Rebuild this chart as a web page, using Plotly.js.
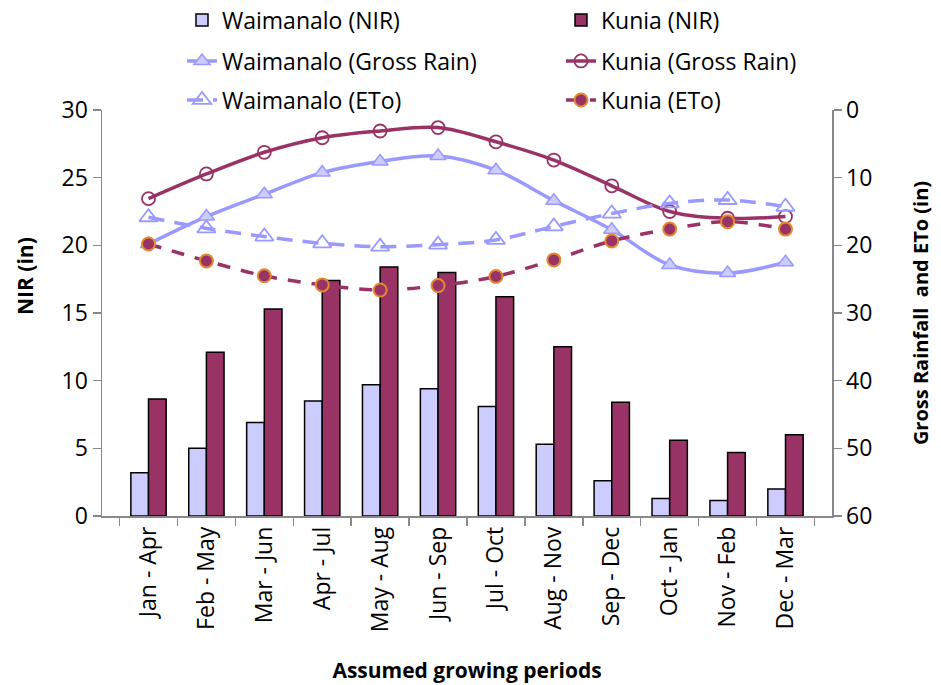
<!DOCTYPE html>
<html><head><meta charset="utf-8">
<script src="https://cdn.plot.ly/plotly-3.0.1.min.js"></script>
<style>body{margin:0;background:#fff}#c{width:941px;height:685px}</style>
</head><body><div id="c"></div>
<script>
const periods = ["Jan - Apr","Feb - May","Mar - Jun","Apr - Jul","May - Aug","Jun - Sep","Jul - Oct","Aug - Nov","Sep - Dec","Oct - Jan","Nov - Feb","Dec - Mar"];
const waimanaloNIR = [3.2,5.0,6.9,8.5,9.7,9.4,8.1,5.3,2.6,1.3,1.15,2.0];
const kuniaNIR = [8.65,12.1,15.3,17.4,18.4,18.0,16.2,12.5,8.4,5.6,4.7,6.0];
const waimanaloRain = [19.8,15.75,12.45,9.25,7.6,6.8,8.9,13.4,17.7,22.9,24.1,22.5];
const kuniaRain = [13.1,9.45,6.25,4.1,3.1,2.6,4.7,7.4,11.2,15.0,16.0,15.75];
const waimanaloETo = [15.85,17.5,18.7,19.7,20.2,19.9,19.2,17.2,15.3,13.8,13.3,14.3];
const kuniaETo = [19.8,22.3,24.5,25.85,26.6,25.95,24.6,22.15,19.35,17.6,16.5,17.6];

const FONT = "'Open Sans', sans-serif";
const LBLUE = "#9999FF", PURPLE = "#993366";

const traces = [
  {type:"bar", name:"Waimanalo (NIR)", x:periods, y:waimanaloNIR, legend:"legend",
   marker:{color:"#CCCCFF", line:{color:"#000", width:1.5}}},
  {type:"bar", name:"Kunia (NIR)", x:periods, y:kuniaNIR, legend:"legend2",
   marker:{color:PURPLE, line:{color:"#000", width:1.5}}},
  {type:"scatter", mode:"lines+markers", name:"Waimanalo (Gross Rain)", x:periods, y:waimanaloRain, yaxis:"y2", legend:"legend3",
   line:{color:LBLUE, width:3.5, shape:"spline"},
   marker:{symbol:"triangle-up", size:14, color:"#CCCCFF", line:{color:LBLUE, width:1.5}}},
  {type:"scatter", mode:"lines+markers", name:"Kunia (Gross Rain)", x:periods, y:kuniaRain, yaxis:"y2", legend:"legend4",
   line:{color:PURPLE, width:3.5, shape:"spline"},
   marker:{symbol:"circle", size:13, color:"rgba(255,255,255,0)", line:{color:PURPLE, width:1.8}}},
  {type:"scatter", mode:"lines+markers", name:"Waimanalo (ETo)", x:periods, y:waimanaloETo, yaxis:"y2", legend:"legend5",
   line:{color:LBLUE, width:3.5, shape:"spline", dash:"16px,10px"},
   marker:{symbol:"triangle-up", size:16, color:"rgba(255,255,255,0)", line:{color:LBLUE, width:1.8}}},
  {type:"scatter", mode:"lines+markers", name:"Kunia (ETo)", x:periods, y:kuniaETo, yaxis:"y2", legend:"legend6",
   line:{color:PURPLE, width:3.5, shape:"spline", dash:"13px,11px"},
   marker:{symbol:"circle", size:13, color:PURPLE, line:{color:"#E38A30", width:2}}}
];

// plot area: x 102..832, y 110..516
function leg(textX, ypx){
  const lx = textX - 41;
  return {orientation:"v", x:(lx-102)/730, xanchor:"left", y:(516-ypx)/406, yanchor:"middle",
    font:{family:FONT, size:23, color:"#000"}, bgcolor:"rgba(0,0,0,0)"};
}

const layout = {
  width:941, height:685,
  margin:{l:102, r:109, t:110, b:169, autoexpand:false},
  paper_bgcolor:"#fff", plot_bgcolor:"#fff",
  font:{family:FONT, size:23, color:"#000"},
  barmode:"group", bargap:0.39, bargroupgap:0,
  showlegend:true,
  legend:leg(223,20), legend2:leg(602,20),
  legend3:leg(223,61), legend4:leg(602,61),
  legend5:leg(223,100), legend6:leg(602,100),
  xaxis:{type:"category", tickangle:-90, showline:true, linecolor:"#888", linewidth:1.5,
    ticks:"outside", tickson:"boundaries", ticklen:8, tickcolor:"#888", tickwidth:1.5,
    tickfont:{family:FONT, size:23}, showgrid:false,
    title:{text:"<b>Assumed growing periods</b>", font:{family:FONT, size:21}, standoff:32}},
  yaxis:{range:[0,30], dtick:5, showline:true, linecolor:"#888", linewidth:1.5,
    ticks:"outside", ticklen:8, tickcolor:"#888", tickwidth:1.5, showgrid:false, zeroline:false,
    tickfont:{family:FONT, size:23}},
  yaxis2:{overlaying:"y", side:"right", range:[60,0], dtick:10, showline:true, linecolor:"#888", linewidth:1.5,
    ticks:"outside", ticklen:8, tickcolor:"#888", tickwidth:1.5, showgrid:false, zeroline:false,
    tickfont:{family:FONT, size:23},
    title:{text:"<b>Gross Rainfall  and ETo (in)</b>", font:{family:FONT, size:20}, standoff:42}},
  annotations:[
    {text:"<b>NIR (in)</b>", textangle:-90, xref:"paper", yref:"paper",
     x:(25-102)/730, y:(516-276)/406, xanchor:"center", yanchor:"middle", showarrow:false,
     font:{family:FONT, size:21, color:"#000"}}
  ]
};

Plotly.newPlot("c", traces, layout, {displayModeBar:false, staticPlot:true});
</script></body></html>
